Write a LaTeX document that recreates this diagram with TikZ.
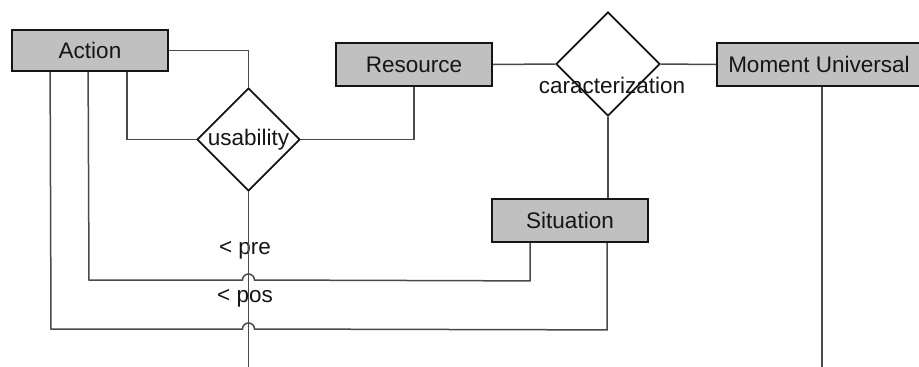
\documentclass[tikz,border=0pt]{standalone}
\usepackage{fontspec}
\setmainfont{Liberation Sans}
\usetikzlibrary{shapes.geometric}
\definecolor{boxfill}{HTML}{C0C0C0}
\definecolor{linegray}{HTML}{4A4A4A}
\definecolor{inkdark}{HTML}{151515}
\begin{document}
\begin{tikzpicture}[x=1pt,y=-1pt,
  entity/.style={draw=inkdark,fill=boxfill,line width=1.8pt,minimum height=43pt,
    inner sep=0pt,font=\fontsize{22.5}{27}\selectfont,text=inkdark},
  relation/.style={draw=inkdark,diamond,line width=1.7pt,inner sep=0pt},
  txt/.style={inner sep=0pt,font=\fontsize{22.5}{27}\selectfont,text=inkdark},
  link/.style={draw=linegray,line width=1.5pt}]
\useasboundingbox (0,0) rectangle (919,367);

% entities
\node[entity,minimum width=156pt,minimum height=41pt] (action) at (90,50.5) {Action};
\node[entity,minimum width=156pt] (resource) at (414,64.5) {Resource};
\node[entity,minimum width=204pt,anchor=west] (moment) at (716,64.5) {Moment Universal};
\node[entity,minimum width=156pt] (situation) at (570,220.5) {Situation};

% relationships
\node[relation,minimum width=103pt,minimum height=103pt] (usab) at (248.5,139.5) {};
\node[txt] (usabtxt) at (usab) {usability};
\node[relation,minimum width=104pt,minimum height=104pt] (carac) at (608,64) {};
\node[txt] (caractxt) at (612,85) {caracterization};

% connector labels
\node[txt] (pre) at (245,250) {< pre};
\node[txt] (pos) at (245,298) {< pos};

% free ends at the lower edge
\coordinate (usabend) at (248.5,367);
\coordinate (momentend) at (822,367);

% connectors
\draw[link] (action.east) -| (usab.north);
\draw[link] ([xshift=116pt]action.south west) |- (usab.west);
\draw[link] (usab.east) -| (resource.south);
\draw[link] (resource.east) -- (carac.west);
\draw[link] (carac.east) -- (moment.west);
\draw[link] (carac.south) -- (carac.south |- situation.north);
\draw[link] (usab.south) -- (usabend);
\draw[link] ([xshift=106pt]moment.south west) -- (momentend);

% situation -> action, hopping over the usability line
\draw[link] ([xshift=39pt]situation.south west) -- ++(0,38) -- (254.5,280)
  arc[start angle=0,end angle=180,radius=6pt] -- (89,280) -- ([xshift=77pt]action.south west);
\draw[link] ([xshift=116pt]situation.south west) -- ++(0,87) -- (254.5,329)
  arc[start angle=0,end angle=180,radius=6pt] -- (51,329) -- ([xshift=39pt]action.south west);
\end{tikzpicture}
\end{document}
